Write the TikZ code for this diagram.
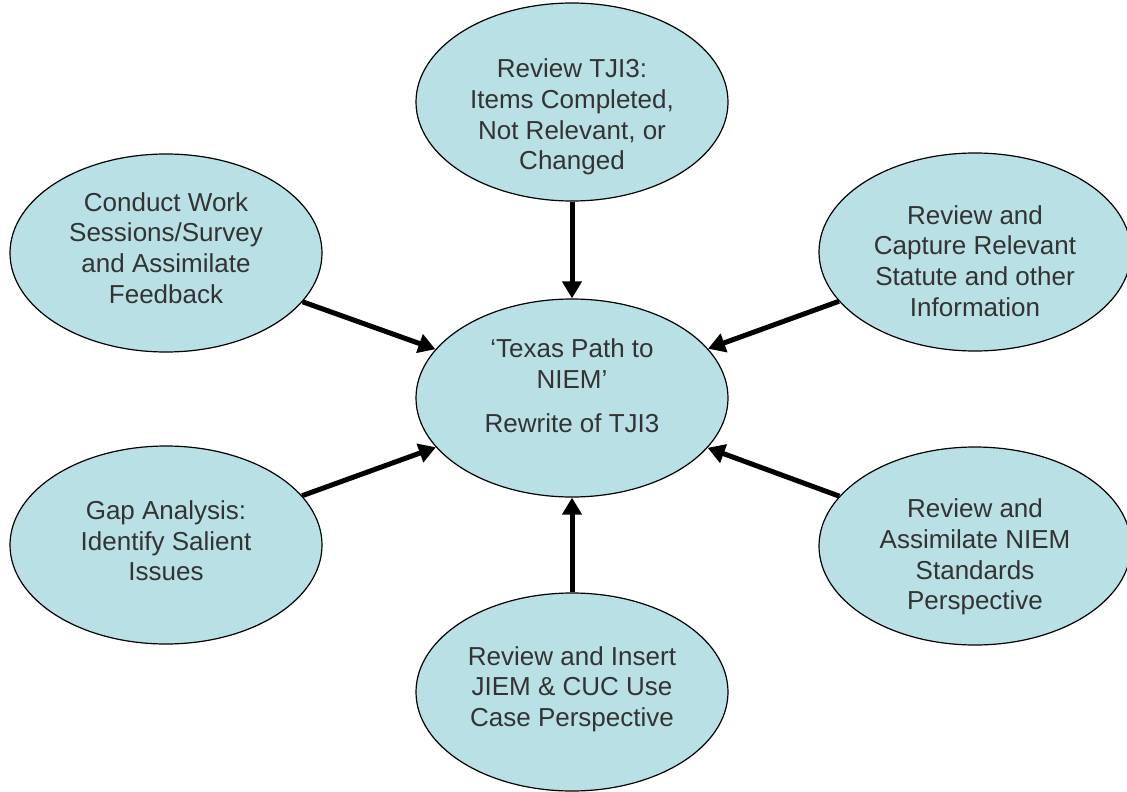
\documentclass[tikz,border=0pt]{standalone}
\usepackage{fontspec}
\setmainfont{Liberation Sans}
\usetikzlibrary{shapes.geometric}
\usetikzlibrary{arrows.meta}
\definecolor{bubblefill}{RGB}{185,224,228}
\definecolor{bubbleink}{RGB}{51,51,51}

\begin{document}
\begin{tikzpicture}[x=1pt,y=-1pt]
    % Styles
    \tikzset{
        bubble/.style={draw,ellipse,fill=bubblefill,line width=1.2pt,
            minimum width=312pt,minimum height=198pt,inner sep=0pt},
        bubbletext/.style={align=center,text=bubbleink,inner sep=0pt,
            font=\fontsize{26}{30.7}\selectfont},
        arrowline/.style={line width=5pt,-{Triangle[length=17pt,width=19pt]}}
    }
    \useasboundingbox (0,0) rectangle (1127,792);

    % Ellipses
    \node[bubble] (hub) at (572,398){};
    \node[bubble] (top) at (572,102){};
    \node[bubble] (lefttop) at (166,253){};
    \node[bubble] (righttop) at (975,252){};
    \node[bubble] (leftbot) at (166,545){};
    \node[bubble] (rightbot) at (975,546){};
    \node[bubble] (bottom) at (572,692){};

    % % Texts
    \node[bubbletext,yshift=12pt] (hubtxt) at (hub) {`Texas Path to\\NIEM'\\[14pt]Rewrite of TJI3};
    \node[bubbletext,yshift=-15pt] (toptxt) at (top) {Review TJI3:\\Items Completed,\\Not Relevant, or\\Changed};
    \node[bubbletext,yshift=5pt] (lefttoptxt) at (lefttop) {Conduct Work\\Sessions/Survey\\and Assimilate\\Feedback};
    \node[bubbletext,yshift=-9pt] (righttoptxt) at (righttop) {Review and\\Capture Relevant\\Statute and other\\Information};
    \node[bubbletext,yshift=4pt] (leftbottxt) at (leftbot) {Gap Analysis:\\Identify Salient\\Issues};
    \node[bubbletext,yshift=-11pt] (rightbottxt) at (rightbot) {Review and\\Assimilate NIEM\\Standards\\Perspective};
    \node[bubbletext,yshift=3pt] (bottomtxt) at (bottom) {Review and Insert\\JIEM \& CUC Use\\Case Perspective};

    % % % Connection
    \draw[arrowline] (top) -- (hub);
    \draw[arrowline] (lefttop) -- (hub);
    \draw[arrowline] (righttop) -- (hub);
    \draw[arrowline] (leftbot) -- (hub);
    \draw[arrowline] (rightbot) -- (hub);
    \draw[arrowline] (bottom) -- (hub);
\end{tikzpicture}
\end{document}
